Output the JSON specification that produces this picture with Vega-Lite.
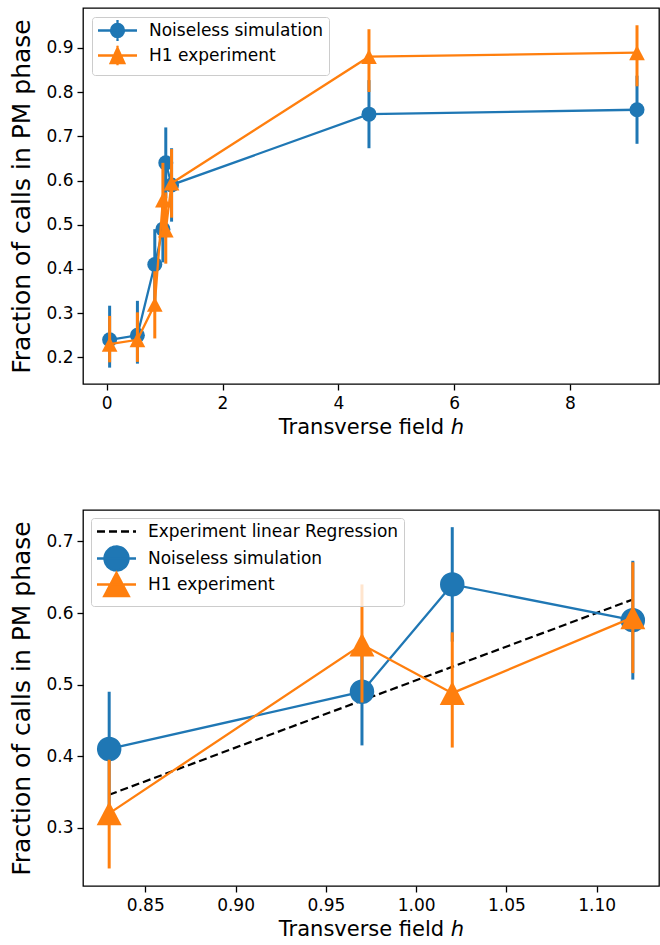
{
 "$schema": "https://vega.github.io/schema/vega-lite/v6.json",
 "padding": {"left": 9, "top": 7, "right": 0, "bottom": 0},
 "config": {
  "font": "DejaVu Sans",
  "view": {"stroke": "black", "strokeWidth": 1.3},
  "axis": {"domain": false, "grid": false, "tickColor": "black", "tickSize": 6, "tickWidth": 1.3, "labelColor": "black", "labelFontSize": 17, "labelFont": "DejaVu Sans", "titleColor": "black", "titleFont": "DejaVu Sans", "titleFontWeight": "normal"},
  "axisX": {"titleFontSize": 21, "labelPadding": 5, "titlePadding": 5},
  "axisY": {"titleFontSize": 25, "labelPadding": 4, "titlePadding": 11},
  "legend": {"labelFont": "DejaVu Sans", "labelFontSize": 17, "labelColor": "black", "labelLimit": 500, "fillColor": "rgba(255,255,255,0.8)", "strokeColor": "#cccccc", "cornerRadius": 3, "padding": 5, "title": null}
 },
 "datasets": {
  "pts": [
   {"series": "Noiseless simulation", "h": 0.05, "y": 0.24, "lo": 0.177, "hi": 0.317},
   {"series": "Noiseless simulation", "h": 0.53, "y": 0.25, "lo": 0.186, "hi": 0.328},
   {"series": "Noiseless simulation", "h": 0.83, "y": 0.41, "lo": 0.33, "hi": 0.49},
   {"series": "Noiseless simulation", "h": 0.97, "y": 0.49, "lo": 0.415, "hi": 0.565},
   {"series": "Noiseless simulation", "h": 1.02, "y": 0.64, "lo": 0.56, "hi": 0.72},
   {"series": "Noiseless simulation", "h": 1.12, "y": 0.59, "lo": 0.507, "hi": 0.673},
   {"series": "Noiseless simulation", "h": 4.53, "y": 0.75, "lo": 0.673, "hi": 0.827},
   {"series": "Noiseless simulation", "h": 9.16, "y": 0.76, "lo": 0.683, "hi": 0.837},
   {"series": "H1 experiment", "h": 0.05, "y": 0.23, "lo": 0.189, "hi": 0.294},
   {"series": "H1 experiment", "h": 0.53, "y": 0.24, "lo": 0.19, "hi": 0.302},
   {"series": "H1 experiment", "h": 0.83, "y": 0.32, "lo": 0.243, "hi": 0.395},
   {"series": "H1 experiment", "h": 0.97, "y": 0.556, "lo": 0.475, "hi": 0.64},
   {"series": "H1 experiment", "h": 1.02, "y": 0.488, "lo": 0.412, "hi": 0.573},
   {"series": "H1 experiment", "h": 1.12, "y": 0.594, "lo": 0.516, "hi": 0.671},
   {"series": "H1 experiment", "h": 4.53, "y": 0.88, "lo": 0.80, "hi": 0.942},
   {"series": "H1 experiment", "h": 9.16, "y": 0.889, "lo": 0.813, "hi": 0.951}
  ],
  "reg": [
   {"series": "Experiment linear Regression", "h": 0.83, "y": 0.346},
   {"series": "Experiment linear Regression", "h": 1.12, "y": 0.619}
  ]
 },
 "spacing": 71,
 "resolve": {"scale": {"color": "independent"}},
 "vconcat": [
  {
   "width": 576, "height": 376,
   "data": {"name": "pts"},
   "encoding": {
    "x": {"field": "h", "type": "quantitative", "scale": {"domain": [-0.41, 9.54], "nice": false, "zero": false}, "axis": {"values": [0, 2, 4, 6, 8], "title": "Transverse field ℎ"}},
    "color": {"field": "series", "type": "nominal", "scale": {"domain": ["Noiseless simulation", "H1 experiment"], "range": ["#1f77b4", "#ff7f0e"]},
     "legend": {"orient": "top-left", "offset": 9, "symbolSize": 169, "symbolOffset": 12, "labelOffset": 23, "rowPadding": -5,
      "encode": {"symbols": {"update": {
       "shape": {"signal": "datum.value === 'Noiseless simulation' ? 'M-3,0H3M0,-1.6V1.6M1,0A1,1,0,1,1,-1,0A1,1,0,1,1,1,0Z' : 'M-3,0H3M0,-1.5V1.5M0,-1.15L1.05,1.15L-1.05,1.15Z'"},
       "fill": {"scale": "color", "field": "value"},
       "stroke": {"scale": "color", "field": "value"},
       "strokeWidth": {"value": 2.3},
       "opacity": {"value": 1}
      }}}}}
   },
   "layer": [
    {"transform": [{"filter": "datum.series === 'Noiseless simulation'"}],
     "mark": {"type": "rule", "strokeWidth": 3},
     "encoding": {"y": {"field": "lo", "type": "quantitative", "scale": {"domain": [0.14, 0.99], "nice": false, "zero": false}, "axis": {"values": [0.2, 0.3, 0.4, 0.5, 0.6, 0.7, 0.8, 0.9], "format": ".1f", "title": "Fraction of calls in PM phase"}}, "y2": {"field": "hi"}}},
    {"transform": [{"filter": "datum.series === 'Noiseless simulation'"}],
     "mark": {"type": "line", "strokeWidth": 2.3, "point": {"filled": true, "size": 225, "shape": "circle", "opacity": 1}},
     "encoding": {"y": {"field": "y", "type": "quantitative", "scale": {"domain": [0.14, 0.99], "nice": false, "zero": false}, "axis": {"values": [0.2, 0.3, 0.4, 0.5, 0.6, 0.7, 0.8, 0.9], "format": ".1f", "title": "Fraction of calls in PM phase"}}}},
    {"transform": [{"filter": "datum.series === 'H1 experiment'"}],
     "mark": {"type": "rule", "strokeWidth": 3},
     "encoding": {"y": {"field": "lo", "type": "quantitative", "scale": {"domain": [0.14, 0.99], "nice": false, "zero": false}, "axis": {"values": [0.2, 0.3, 0.4, 0.5, 0.6, 0.7, 0.8, 0.9], "format": ".1f", "title": "Fraction of calls in PM phase"}}, "y2": {"field": "hi"}}},
    {"transform": [{"filter": "datum.series === 'H1 experiment'"}],
     "mark": {"type": "line", "strokeWidth": 2.3, "point": {"filled": true, "size": 246, "shape": "M0,-0.95L1,0.95L-1,0.95Z", "opacity": 1}},
     "encoding": {"y": {"field": "y", "type": "quantitative", "scale": {"domain": [0.14, 0.99], "nice": false, "zero": false}, "axis": {"values": [0.2, 0.3, 0.4, 0.5, 0.6, 0.7, 0.8, 0.9], "format": ".1f", "title": "Fraction of calls in PM phase"}}}}
   ]
  },
  {
   "width": 576, "height": 376,
   "encoding": {
    "x": {"field": "h", "type": "quantitative", "scale": {"domain": [0.8155, 1.1345], "nice": false, "zero": false}, "axis": {"values": [0.85, 0.9, 0.95, 1.0, 1.05, 1.1], "format": ".2f", "title": "Transverse field ℎ"}},
    "color": {"field": "series", "type": "nominal", "scale": {"domain": ["Experiment linear Regression", "Noiseless simulation", "H1 experiment"], "range": ["black", "#1f77b4", "#ff7f0e"]},
     "legend": {"orient": "top-left", "offset": 8, "symbolSize": 169, "symbolOffset": 12, "labelOffset": 23, "rowPadding": -8,
      "encode": {"symbols": {"update": {
       "shape": {"signal": "datum.value === 'Noiseless simulation' ? 'M-3,0H3M1.85,0A1.85,1.85,0,1,1,-1.85,0A1.85,1.85,0,1,1,1.85,0Z' : datum.value === 'H1 experiment' ? 'M-3,0H3M0,-1.8L1.9,1.8L-1.9,1.8Z' : 'M0,-1.85M0,1.85M-3,0H3'"},
       "fill": {"scale": "color", "field": "value"},
       "stroke": {"scale": "color", "field": "value"},
       "strokeDash": {"signal": "datum.value === 'Experiment linear Regression' ? [8, 4] : [1, 0]"},
       "strokeWidth": {"value": 2.3},
       "opacity": {"value": 1}
      }}}}}
   },
   "layer": [
    {"data": {"name": "reg"},
     "mark": {"type": "line", "strokeWidth": 2.2, "strokeDash": [8, 4]},
     "encoding": {"y": {"field": "y", "type": "quantitative", "scale": {"domain": [0.2185, 0.744], "nice": false, "zero": false}, "axis": {"values": [0.3, 0.4, 0.5, 0.6, 0.7], "format": ".1f", "title": "Fraction of calls in PM phase"}}}},
    {"data": {"name": "pts"},
     "transform": [{"filter": "datum.series === 'Noiseless simulation' && datum.h > 0.8 && datum.h < 1.2"}],
     "mark": {"type": "rule", "strokeWidth": 3},
     "encoding": {"y": {"field": "lo", "type": "quantitative", "scale": {"domain": [0.2185, 0.744], "nice": false, "zero": false}, "axis": {"values": [0.3, 0.4, 0.5, 0.6, 0.7], "format": ".1f", "title": "Fraction of calls in PM phase"}}, "y2": {"field": "hi"}}},
    {"data": {"name": "pts"},
     "transform": [{"filter": "datum.series === 'Noiseless simulation' && datum.h > 0.8 && datum.h < 1.2"}],
     "mark": {"type": "line", "strokeWidth": 2.3, "point": {"filled": true, "size": 600, "shape": "circle", "opacity": 1}},
     "encoding": {"y": {"field": "y", "type": "quantitative", "scale": {"domain": [0.2185, 0.744], "nice": false, "zero": false}, "axis": {"values": [0.3, 0.4, 0.5, 0.6, 0.7], "format": ".1f", "title": "Fraction of calls in PM phase"}}}},
    {"data": {"name": "pts"},
     "transform": [{"filter": "datum.series === 'H1 experiment' && datum.h > 0.8 && datum.h < 1.2"}],
     "mark": {"type": "rule", "strokeWidth": 3},
     "encoding": {"y": {"field": "lo", "type": "quantitative", "scale": {"domain": [0.2185, 0.744], "nice": false, "zero": false}, "axis": {"values": [0.3, 0.4, 0.5, 0.6, 0.7], "format": ".1f", "title": "Fraction of calls in PM phase"}}, "y2": {"field": "hi"}}},
    {"data": {"name": "pts"},
     "transform": [{"filter": "datum.series === 'H1 experiment' && datum.h > 0.8 && datum.h < 1.2"}],
     "mark": {"type": "line", "strokeWidth": 2.3, "point": {"filled": true, "size": 625, "shape": "M0,-0.95L1,0.95L-1,0.95Z", "opacity": 1}},
     "encoding": {"y": {"field": "y", "type": "quantitative", "scale": {"domain": [0.2185, 0.744], "nice": false, "zero": false}, "axis": {"values": [0.3, 0.4, 0.5, 0.6, 0.7], "format": ".1f", "title": "Fraction of calls in PM phase"}}}}
   ]
  }
 ]
}
